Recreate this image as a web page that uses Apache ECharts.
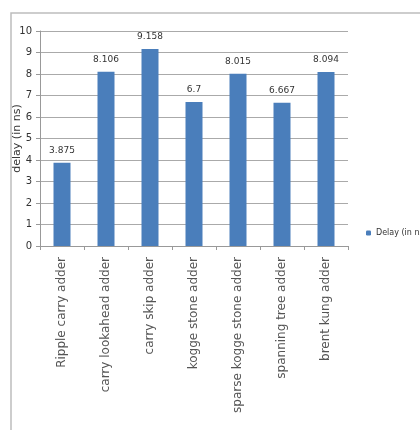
<!DOCTYPE html>
<html><head><meta charset="utf-8">
<script src="https://cdn.jsdelivr.net/npm/echarts@6/dist/echarts.min.js"></script>
<style>html,body{margin:0;padding:0;background:#fff}#c{width:420px;height:430px}</style>
</head><body><div id="c"></div>
<script>
const categories = ["Ripple carry adder","carry lookahead adder","carry skip adder","kogge stone adder","sparse kogge stone adder","spanning tree adder","brent kung adder"];
const delayValues = [3.875, 8.106, 9.158, 6.7, 8.015, 6.667, 8.094];
const seriesName = "Delay (in ns)";
const yAxisName = "delay (in ns)";
const chart = echarts.init(document.getElementById('c'), null, {renderer:'canvas'});
chart.setOption({
  animation:false,
  textStyle:{fontFamily:'DejaVu Sans'},
  graphic:[{type:'rect',shape:{x:11,y:13,width:420,height:430},style:{fill:'none',stroke:'#bdbdbd',lineWidth:1.5},silent:true}],
  grid:{left:40,right:72,top:31,bottom:184,containLabel:false,outerBoundsMode:'none'},
  legend:{data:[seriesName],left:361,top:224,itemWidth:5,itemHeight:5,itemGap:3,textStyle:{fontSize:8,color:'#333',fontFamily:'DejaVu Sans'}},
  xAxis:{type:'category',data:categories,
    axisLine:{lineStyle:{color:'#999'}},
    axisTick:{show:true,interval:0,length:4,lineStyle:{color:'#999'}},
    axisLabel:{interval:0,rotate:90,fontSize:12,color:'#555',margin:11}},
  yAxis:{type:'value',min:0,max:10,interval:1,name:yAxisName,nameLocation:'middle',nameGap:17,nameMoveOverlap:false,
    nameTextStyle:{fontSize:11,color:'#333'},
    axisLine:{show:true,lineStyle:{color:'#999'}},
    axisTick:{show:true,length:4,lineStyle:{color:'#999'}},
    axisLabel:{fontSize:10,color:'#333',margin:8},
    splitLine:{lineStyle:{color:'#aaa'}}},
  series:[{name:seriesName,type:'bar',data:delayValues,barWidth:17,
    itemStyle:{color:'#4a7ebb'},
    label:{show:true,position:'top',fontSize:9,color:'#333',distance:8}}]
});
</script></body></html>
